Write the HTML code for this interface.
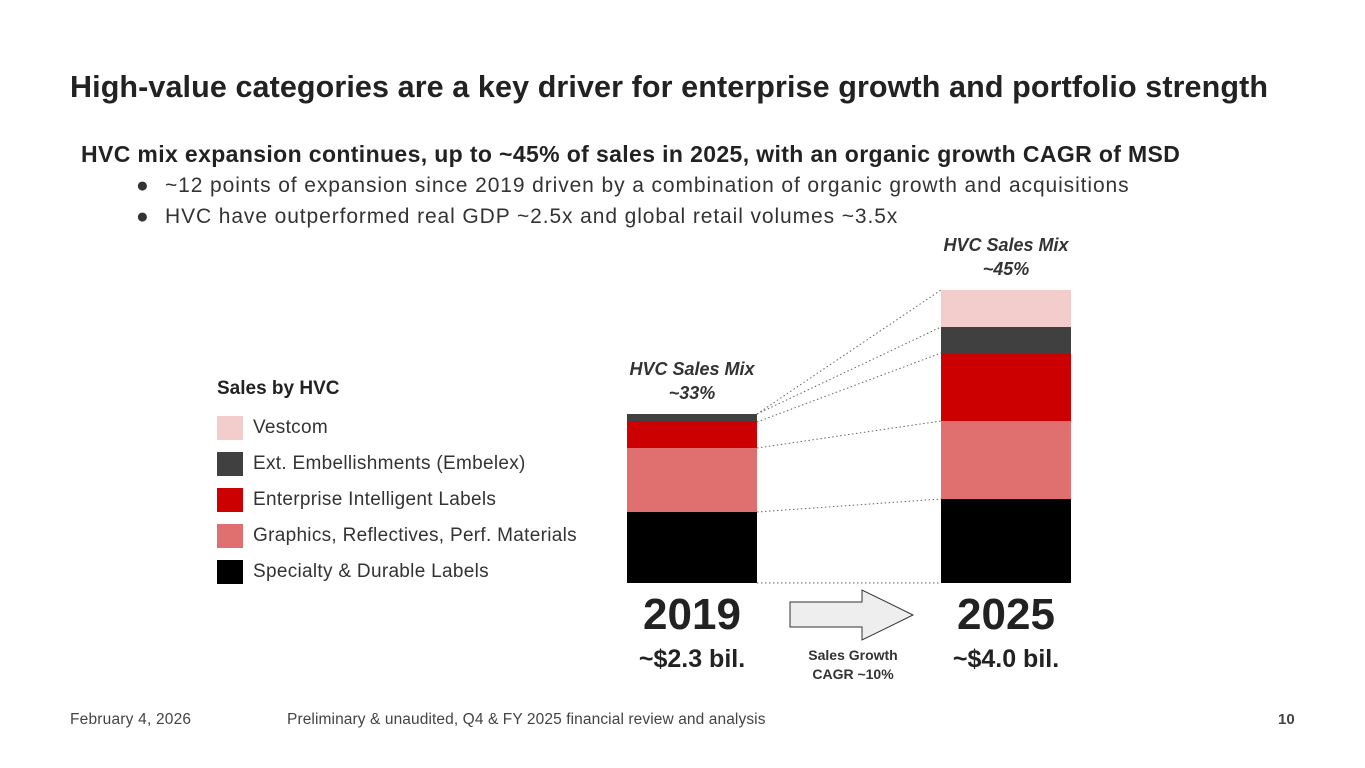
<!DOCTYPE html>
<html><head><meta charset="utf-8"><style>
body{margin:0;width:1365px;height:768px;background:#fff;font-family:"Liberation Sans",sans-serif;color:#222;position:relative;overflow:hidden}
.a{position:absolute;white-space:nowrap}
.dot{position:absolute;left:0}
</style></head><body>
<div class="a" style="left:70px;top:70px;font-size:30.5px;font-weight:bold;color:#222;letter-spacing:0.1px">High-value categories are a key driver for enterprise growth and portfolio strength</div>
<div class="a" style="left:81px;top:141px;font-size:23px;font-weight:bold;letter-spacing:0.37px">HVC mix expansion continues, up to ~45% of sales in 2025, with an organic growth CAGR of MSD</div>
<div class="a" style="left:136px;top:174px;font-size:21px;color:#333"><span class="dot">●</span><span style="position:absolute;left:29px;letter-spacing:0.9px">~12 points of expansion since 2019 driven by a combination of organic growth and acquisitions</span></div>
<div class="a" style="left:136px;top:205px;font-size:21px;color:#333"><span class="dot">●</span><span style="position:absolute;left:29px;letter-spacing:0.9px">HVC have outperformed real GDP ~2.5x and global retail volumes ~3.5x</span></div>
<div class="a" style="left:217px;top:378px;font-size:19px;font-weight:bold">Sales by HVC</div>
<div id="legend"></div>
<svg id="chart" width="1365" height="768" style="position:absolute;left:0;top:0"></svg>
<div class="a" style="left:70px;top:711px;font-size:15.5px;color:#444;letter-spacing:0.2px">February 4, 2026</div>
<div class="a" style="left:287px;top:711px;font-size:15.5px;color:#444;letter-spacing:0.1px">Preliminary &amp; unaudited, Q4 &amp; FY 2025 financial review and analysis</div>
<div class="a" style="left:1278px;top:711px;font-size:15px;font-weight:bold;color:#444">10</div>
<script>
const categories=["Specialty & Durable Labels","Graphics, Reflectives, Perf. Materials","Enterprise Intelligent Labels","Ext. Embellishments (Embelex)","Vestcom"];
const colors=["#000000","#e07070","#cc0000","#404040","#f3cccc"];
const years=["2019","2025"];
const values2019=[71,64,26,8,0];
const values2025=[84,78,68,26,37];
const totals=["~$2.3 bil.","~$4.0 bil."];
const mixLabels=["~33%","~45%"];
const NS="http://www.w3.org/2000/svg";
const svg=document.getElementById('chart');
const base=583, barW=130, barX=[627,941];
function y(v){return base-v;}
function mk(t,a){const e=document.createElementNS(NS,t);for(const k in a)e.setAttribute(k,a[k]);svg.appendChild(e);return e;}
const series=[values2019,values2025];
const tops=[[],[]];
series.forEach((vals,i)=>{let c=0;vals.forEach((v,j)=>{const r=mk('rect',{x:barX[i],y:y(c+v),width:barW,height:v,fill:colors[j]});


c+=v;tops[i].push(c);});});
tops[0].forEach((t,j)=>{const l=mk('line',{x1:barX[0]+barW,y1:y(t),x2:barX[1],y2:y(tops[1][j]),stroke:'#666','stroke-width':1,'stroke-dasharray':'1.5 2.5'});

});
const bl=mk('line',{x1:barX[0]+barW,y1:base,x2:barX[1],y2:base,stroke:'#666','stroke-width':1,'stroke-dasharray':'1.5 2.5'});


series.forEach((vals,i)=>{const cx=barX[i]+barW/2,top=y(tops[i][tops[i].length-1]);
const t1=mk('text',{x:cx,y:top-39,'text-anchor':'middle','font-size':18,'font-weight':'bold','font-style':'italic',fill:'#333'});t1.textContent='HVC Sales Mix';


const t2=mk('text',{x:cx,y:top-15,'text-anchor':'middle','font-size':18,'font-weight':'bold','font-style':'italic',fill:'#333'});t2.textContent=mixLabels[i];


const t3=mk('text',{x:cx,y:629,'text-anchor':'middle','font-size':44,'font-weight':'bold',fill:'#222'});t3.textContent=years[i];


const t4=mk('text',{x:cx,y:667,'text-anchor':'middle','font-size':25,'font-weight':'bold',fill:'#222'});t4.textContent=totals[i];

});
const ar=mk('polygon',{points:'790,602 862,602 862,590 913,615 862,640 862,627 790,627',fill:'#eee',stroke:'#333','stroke-width':1});


['Sales Growth','CAGR ~10%'].forEach((s,k)=>{const t=mk('text',{x:853,y:660+k*19,'text-anchor':'middle','font-size':14,'font-weight':'bold',fill:'#333'});t.textContent=s;

});
const lg=document.getElementById('legend');
for(let j=categories.length-1,k=0;j>=0;j--,k++){const d=document.createElement('div');d.className='a';d.style.cssText='left:217px;top:'+(416+k*36)+'px;font-size:19px;color:#333;line-height:24px;letter-spacing:0.3px';
d.innerHTML='<span style="display:inline-block;width:26px;height:24px;background:'+colors[j]+';vertical-align:top;margin-right:10px"></span>'+categories[j].replace('&','&amp;');


lg.appendChild(d);}
</script>
</body></html>
